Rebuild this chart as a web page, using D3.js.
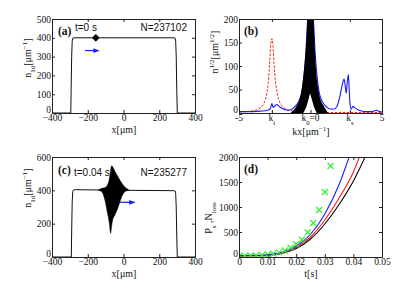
<!DOCTYPE html>
<html>
<head>
<meta charset="utf-8">
<script src="https://cdn.jsdelivr.net/npm/d3@7"></script>
<style>
  body { margin: 0; background: #fff; }
  svg { display: block; }
  .tick text { font-family: "Liberation Serif", serif; font-size: 9.5px; fill: #111; }
  .tick line { stroke: #222; }
  .domain { stroke: #222; }
</style>
</head>
<body>
<svg id="fig" width="415" height="294"></svg>
<script>
// ---- panel (a): initial 1d density
var profA_x = [-400, -295, -293, -290, -287, -284, -278, 283, 289, 292, 295, 298, 301, 400];
var profA_n = [0, 0, 120, 300, 380, 398, 400, 400, 398, 380, 300, 120, 0, 0];
var markA = [[-155, 400]];
var arrowA = [[-215, 332], [-138, 332]];

// ---- panel (b): momentum distribution
var redB_k = [-5, -4.5, -4, -3.6, -3.3, -3.1, -2.95, -2.85, -2.77, -2.7, -2.63, -2.55, -2.45, -2.3, -2.1, -1.8, -1.4, -1, 0, 5];
var redB_n = [2, 3, 5, 9, 18, 35, 65, 110, 148, 158, 145, 105, 68, 38, 20, 10, 5, 3, 1, 1];
var blueB_k = [-5, -4, -3.5, -3, -2.8, -2.7, -2.62, -2.5, -2.33, -2.2, -2, -1.6, -1.3, -1.05, -0.8, -0.6, -0.45, -0.32, -0.22, -0.12, 0, 0.12, 0.22, 0.32, 0.45, 0.6, 0.8, 1.05, 1.3, 1.6, 1.85, 2.05, 2.22, 2.35, 2.42, 2.5, 2.57, 2.65, 2.7, 2.76, 2.85, 2.97, 3.1, 3.4, 3.8, 4.3, 4.6, 4.85, 5];
var blueB_n = [3, 3, 4, 6, 10, 20, 12, 15, 18, 14, 10, 6, 8, 15, 26, 45, 80, 130, 190, 260, 300, 260, 190, 130, 80, 45, 26, 15, 9, 8, 14, 35, 60, 72, 60, 42, 65, 82, 55, 20, 8, 14, 11, 6, 3, 3, 6, 3, 2];
var blackB_k = [-1.4, -1.0, -0.8, -0.62, -0.43, -0.3, -0.2, -0.1, 0, 0.1, 0.2, 0.28, 0.37, 0.55, 0.75, 0.95, 1.22];
var blackB_n = [0, 14, 26, 50, 100, 150, 210, 300, 320, 300, 210, 150, 100, 50, 25, 14, 0];
var holeB_k = [-0.5, -0.3, -0.15, -0.03, 0.1, 0.25, 0.43];
var holeB_n = [0, 12, 28, 42, 28, 12, 0];
var ticksB = [-5, -2.7, 0, 2.75, 5];

// ---- panel (c): density at t=0.04 s
var profC_x = [-400, -292, -290, -287, -284, -280, -270, -140, 30, 280, 289, 292, 295, 298, 301, 400];
var profC_n = [0, 0, 150, 330, 392, 402, 404, 402, 400, 398, 396, 380, 300, 120, 0, 0];
var blobC_x = [-140, -122, -104, -91, -79, -72, -66, -60, -48, -29, -10, 8, 27];
var blobC_up = [402, 412, 416, 430, 470, 520, 548, 540, 515, 478, 444, 420, 405];
var blobC_lo = [400, 392, 342, 272, 202, 142, 190, 225, 252, 302, 362, 392, 400];
var arrowC = [[-20, 328], [62, 328]];

// ---- panel (d): loss vs time
var tD = [0, 0.005, 0.01, 0.015, 0.02, 0.025, 0.03, 0.035, 0.0385, 0.04, 0.0421, 0.0441];
var blueD = [30, 33, 46, 92, 215, 455, 860, 1450, 2000];
var redD = [25, 28, 40, 82, 188, 400, 740, 1180, null, 1700, 2000];
var blackD = [20, 24, 35, 72, 168, 360, 660, 1050, null, 1520, null, 2000];
var greenT = [0, 0.002, 0.004, 0.006, 0.008, 0.01, 0.012, 0.014, 0.016, 0.018, 0.02, 0.022, 0.024, 0.026, 0.028, 0.03, 0.032];
var greenN = [20, 22, 25, 30, 38, 50, 68, 92, 130, 185, 255, 345, 490, 680, 940, 1300, 1820];

var svg = d3.select("#fig");
var defs = svg.append("defs");
defs.append("marker").attr("id", "ah").attr("viewBox", "0 0 10 10")
  .attr("refX", 9).attr("refY", 5).attr("markerWidth", 5).attr("markerHeight", 5)
  .attr("orient", "auto")
  .append("path").attr("d", "M0,1 L10,5 L0,9 z").attr("fill", "#1a1aff");

function panel(id, x0, x1, y0, y1, xd, yd, xticks, yticks, xfmt) {
  var x = d3.scaleLinear().domain(xd).range([x0, x1]);
  var y = d3.scaleLinear().domain(yd).range([y1, y0]);
  var g = svg.append("g").attr("id", id);
  defs.append("clipPath").attr("id", "clip-" + id)
    .append("rect").attr("x", x0).attr("y", y0).attr("width", x1 - x0).attr("height", y1 - y0);
  var plot = g.append("g").attr("clip-path", "url(#clip-" + id + ")");
  g.append("g").attr("transform", `translate(0,${y1})`)
    .call(d3.axisBottom(x).tickValues(xticks).tickSize(-3).tickSizeOuter(0).tickPadding(1).tickFormat(xfmt || d3.format("d")));
  g.append("g").attr("transform", `translate(0,${y0})`)
    .call(d3.axisTop(x).tickValues(xticks).tickSize(-3).tickSizeOuter(0).tickFormat(""));
  var ya = g.append("g").attr("transform", `translate(${x0},0)`)
    .call(d3.axisLeft(y).tickValues(yticks).tickSize(-3).tickSizeOuter(0).tickPadding(1).tickFormat(d3.format("d")));
  // lift the bottom "0" a little, as the original does, so it clears the x labels
  ya.selectAll(".tick text").filter(d => d === 0).attr("dy", "-0.05em");
  g.append("g").attr("transform", `translate(${x1},0)`)
    .call(d3.axisRight(y).tickValues(yticks).tickSize(-3).tickSizeOuter(0).tickFormat(""));
  return {x: x, y: y, g: g, plot: plot};
}

function zip(a, b) {
  var out = [];
  for (var i = 0; i < a.length; i++) if (b[i] != null) out.push([a[i], b[i]]);
  return out;
}

function richText(g, x, y, parts, opts) {
  opts = opts || {};
  var t = g.append("text").attr("x", x).attr("y", y)
    .attr("font-family", opts.family || "Liberation Serif, serif")
    .attr("font-size", opts.size || 10).attr("fill", "#111")
    .attr("text-anchor", opts.anchor || "middle");
  if (opts.rotate) t.attr("transform", `rotate(-90,${x},${y})`);
  parts.forEach(function (p) {
    var s = t.append("tspan").text(p[0]);
    if (p[1] === "sub") s.attr("baseline-shift", "sub").attr("font-size", (opts.size || 10) * 0.7);
    if (p[1] === "sup") s.attr("baseline-shift", "super").attr("font-size", (opts.size || 10) * 0.7);
    if (p[1] === "bold") s.attr("font-weight", "bold");
  });
  return t;
}

// ================= (a)
var A = panel("a", 52, 195, 19, 113, [-400, 400], [0, 500], [-400, -200, 0, 200, 400], [0, 100, 200, 300, 400, 500]);
A.plot.append("path").datum(zip(profA_x, profA_n))
  .attr("d", d3.line().x(d => A.x(d[0])).y(d => A.y(d[1])))
  .attr("fill", "none").attr("stroke", "#111").attr("stroke-width", 1);
A.plot.selectAll(".mk").data(markA).enter().append("path")
  .attr("transform", d => `translate(${A.x(d[0])},${A.y(d[1])}) rotate(45)`)
  .attr("d", d3.symbol(d3.symbolSquare, 30)).attr("fill", "#000");
A.g.append("line").attr("x1", A.x(arrowA[0][0])).attr("y1", A.y(arrowA[0][1]))
  .attr("x2", A.x(arrowA[1][0])).attr("y2", A.y(arrowA[1][1]))
  .attr("stroke", "#1a1aff").attr("stroke-width", 1.2).attr("marker-end", "url(#ah)");
richText(A.g, 58, 35, [["(a)", "bold"]], {anchor: "start", size: 11.5});
richText(A.g, 75, 31, [["t=0 s"]], {anchor: "start", size: 10, family: "Liberation Sans, sans-serif"});
richText(A.g, 187, 31, [["N=237102"]], {anchor: "end", size: 10, family: "Liberation Sans, sans-serif"});
richText(A.g, 124, 133, [["x[μm]"]], {size: 10});
richText(A.g, 31, 58, [["n"], ["1d", "sub"], ["[μm"], ["−1", "sup"], ["]"]], {size: 10, rotate: true});

// ================= (b)
var B = panel("b", 239, 382, 19, 113, [-5, 5], [0, 200], ticksB, [0, 50, 100, 150, 200], d => "");
B.plot.append("path").datum(zip(redB_k, redB_n))
  .attr("d", d3.line().curve(d3.curveMonotoneX).x(d => B.x(d[0])).y(d => B.y(d[1])))
  .attr("fill", "none").attr("stroke", "#ff2020").attr("stroke-width", 1).attr("stroke-dasharray", "2.5,1.5");
B.plot.append("path").datum(zip(blueB_k, blueB_n))
  .attr("d", d3.line().curve(d3.curveMonotoneX).x(d => B.x(d[0])).y(d => B.y(d[1])))
  .attr("fill", "none").attr("stroke", "#1a1aff").attr("stroke-width", 1.1);
B.plot.append("path").datum(zip(blackB_k, blackB_n))
  .attr("d", d3.area().curve(d3.curveMonotoneX).x(d => B.x(d[0])).y0(B.y(0)).y1(d => B.y(d[1])))
  .attr("fill", "#000");
B.plot.append("path").datum(zip(holeB_k, holeB_n))
  .attr("d", d3.area().x(d => B.x(d[0])).y0(B.y(0)).y1(d => B.y(d[1])))
  .attr("fill", "#fff");
// custom tick labels with subscripts
var labB = [[["-5"]], [["k"], ["i", "sub"]], [["k"], ["0", "sub"], ["=0"]], [["k"], ["s", "sub"]], [["5"]]];
ticksB.forEach(function (k, i) {
  richText(B.g, B.x(k), 121, labB[i], {size: 9.5});
});
richText(B.g, 311, 135, [["kx[μm"], ["−1", "sup"], ["]"]], {size: 10});
richText(B.g, 218, 52, [["n"], ["1/2", "sup"], ["[μm"], ["1/2", "sup"], ["]"]], {size: 10, rotate: true});
richText(B.g, 244, 35, [["(b)", "bold"]], {anchor: "start", size: 11.5});

// ================= (c)
var C = panel("c", 52, 195, 157, 257, [-400, 400], [0, 600], [-400, -200, 0, 200, 400], [0, 200, 400, 600]);
C.plot.append("path").datum(zip(profC_x, profC_n))
  .attr("d", d3.line().x(d => C.x(d[0])).y(d => C.y(d[1])))
  .attr("fill", "none").attr("stroke", "#111").attr("stroke-width", 1);
C.plot.append("path").datum(blobC_x.map((v, i) => [v, blobC_lo[i], blobC_up[i]]))
  .attr("d", d3.area().curve(d3.curveMonotoneX).x(d => C.x(d[0])).y0(d => C.y(d[1])).y1(d => C.y(d[2])))
  .attr("fill", "#000").attr("stroke", "#000").attr("stroke-width", 0.5);
C.g.append("line").attr("x1", C.x(arrowC[0][0])).attr("y1", C.y(arrowC[0][1]))
  .attr("x2", C.x(arrowC[1][0])).attr("y2", C.y(arrowC[1][1]))
  .attr("stroke", "#1a1aff").attr("stroke-width", 1.2).attr("marker-end", "url(#ah)");
richText(C.g, 58, 174, [["(c)", "bold"]], {anchor: "start", size: 11.5});
richText(C.g, 74, 176, [["t=0.04 s"]], {anchor: "start", size: 10, family: "Liberation Sans, sans-serif"});
richText(C.g, 187, 176, [["N=235277"]], {anchor: "end", size: 10, family: "Liberation Sans, sans-serif"});
richText(C.g, 124, 277, [["x[μm]"]], {size: 10});
richText(C.g, 31, 188, [["n"], ["1d", "sub"], ["[μm"], ["−1", "sup"], ["]"]], {size: 10, rotate: true});

// ================= (d)
var D = panel("d", 239, 382, 157, 257, [0, 0.05], [0, 2000], [0, 0.01, 0.02, 0.03, 0.04, 0.05], [0, 500, 1000, 1500, 2000], d => d === 0 ? "0" : d3.format(".2f")(d));
var lineD = d3.line().curve(d3.curveMonotoneX).x(d => D.x(d[0])).y(d => D.y(d[1]));
[[blackD, "#000"], [redD, "#ff1a1a"], [blueD, "#1a1aff"]].forEach(function (s) {
  D.plot.append("path").datum(zip(tD, s[0]))
    .attr("d", lineD).attr("fill", "none").attr("stroke", s[1]).attr("stroke-width", 1.1);
});
D.plot.selectAll(".gx").data(zip(greenT, greenN)).enter().append("path")
  .attr("transform", d => `translate(${D.x(d[0])},${D.y(d[1])})`)
  .attr("d", "M-3,-3L3,3M-3,3L3,-3")
  .attr("stroke", "#33ee33").attr("stroke-width", 1.2).attr("fill", "none");
richText(D.g, 244, 173, [["(d)", "bold"]], {anchor: "start", size: 11.5});
richText(D.g, 311, 277, [["t[s]"]], {size: 10});
richText(D.g, 212, 218, [["P"], ["s", "sub"], [" ,N"], ["loss", "sub"]], {size: 10, rotate: true});
</script>
</body>
</html>
